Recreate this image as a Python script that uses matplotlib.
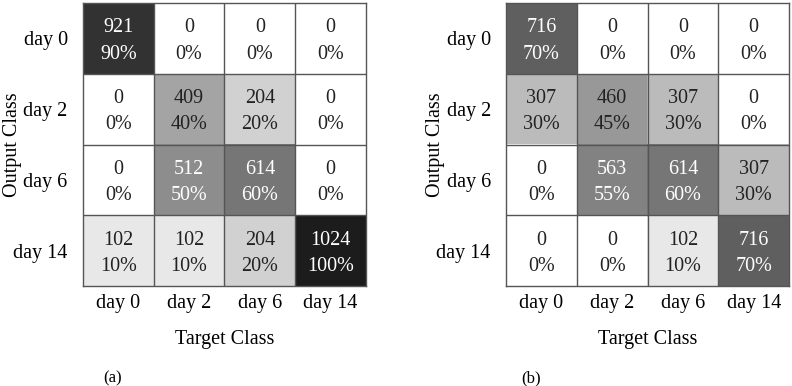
import numpy as np
import matplotlib
matplotlib.use("Agg")
import matplotlib.pyplot as plt
from matplotlib.colors import LinearSegmentedColormap, Normalize

plt.rcParams['font.family'] = ['Liberation Serif', 'DejaVu Serif']

classes = ["day 0", "day 2", "day 6", "day 14"]

# rows = output class, cols = target class
counts_a = np.array([[921, 0, 0, 0],
                     [0, 409, 204, 0],
                     [0, 512, 614, 0],
                     [102, 102, 204, 1024]])
pct_a = np.array([[90, 0, 0, 0],
                  [0, 40, 20, 0],
                  [0, 50, 60, 0],
                  [10, 10, 20, 100]])

counts_b = np.array([[716, 0, 0, 0],
                     [307, 460, 307, 0],
                     [0, 563, 614, 307],
                     [0, 0, 102, 716]])
pct_b = np.array([[70, 0, 0, 0],
                  [30, 45, 30, 0],
                  [0, 55, 60, 30],
                  [0, 0, 10, 70]])

cmap = LinearSegmentedColormap.from_list("wk", ["#ffffff", "#1c1c1c"])
norm = Normalize(0, 100)


def draw_matrix(ax, counts, pct):
    n = len(classes)
    ax.imshow(pct, cmap=cmap, norm=norm, aspect='auto',
              extent=(-0.5, n - 0.5, n - 0.5, -0.5), interpolation='nearest')
    for i in range(n):
        for j in range(n):
            c = 'white' if pct[i, j] >= 50 else '#222222'
            ax.text(j, i - 0.15, "%d" % counts[i, j],
                    ha='center', va='center', fontsize=14.5, color=c)
            ax.text(j, i + 0.22, "%d%%" % pct[i, j],
                    ha='center', va='center', fontsize=14.5, color=c)
    for k in np.arange(0.5, n - 0.5, 1):
        ax.axhline(k, color='#555555', lw=1)
        ax.axvline(k, color='#555555', lw=1)
    for s in ax.spines.values():
        s.set_color('#555555')
        s.set_linewidth(1)
    ax.set_xticks(range(n))
    ax.set_yticks(range(n))
    ax.set_xticklabels(classes, fontsize=14.5)
    ax.set_yticklabels(classes, fontsize=14.5)
    ax.tick_params(length=0)
    ax.tick_params(axis='x', pad=6)
    ax.tick_params(axis='y', pad=11)
    ax.set_xlabel("Target Class", fontsize=14.5, labelpad=12)
    ax.set_ylabel("Output Class", fontsize=14.5, labelpad=-6)
    ax.set_xlim(-0.5, n - 0.5)
    ax.set_ylim(n - 0.5, -0.5)


fig = plt.figure(figsize=(7.92, 3.86), dpi=100)
ax1 = fig.add_axes([0.1048, 0.259, 0.3573, 0.733])
ax2 = fig.add_axes([0.639, 0.259, 0.3573, 0.733])
draw_matrix(ax1, counts_a, pct_a)
draw_matrix(ax2, counts_b, pct_b)
fig.text(113 / 792, 1 - 378 / 386, "(a)", fontsize=12, ha='center', va='center')
fig.text(531 / 792, 1 - 378 / 386, "(b)", fontsize=12, ha='center', va='center')

fig.savefig("out.png", dpi=100)
